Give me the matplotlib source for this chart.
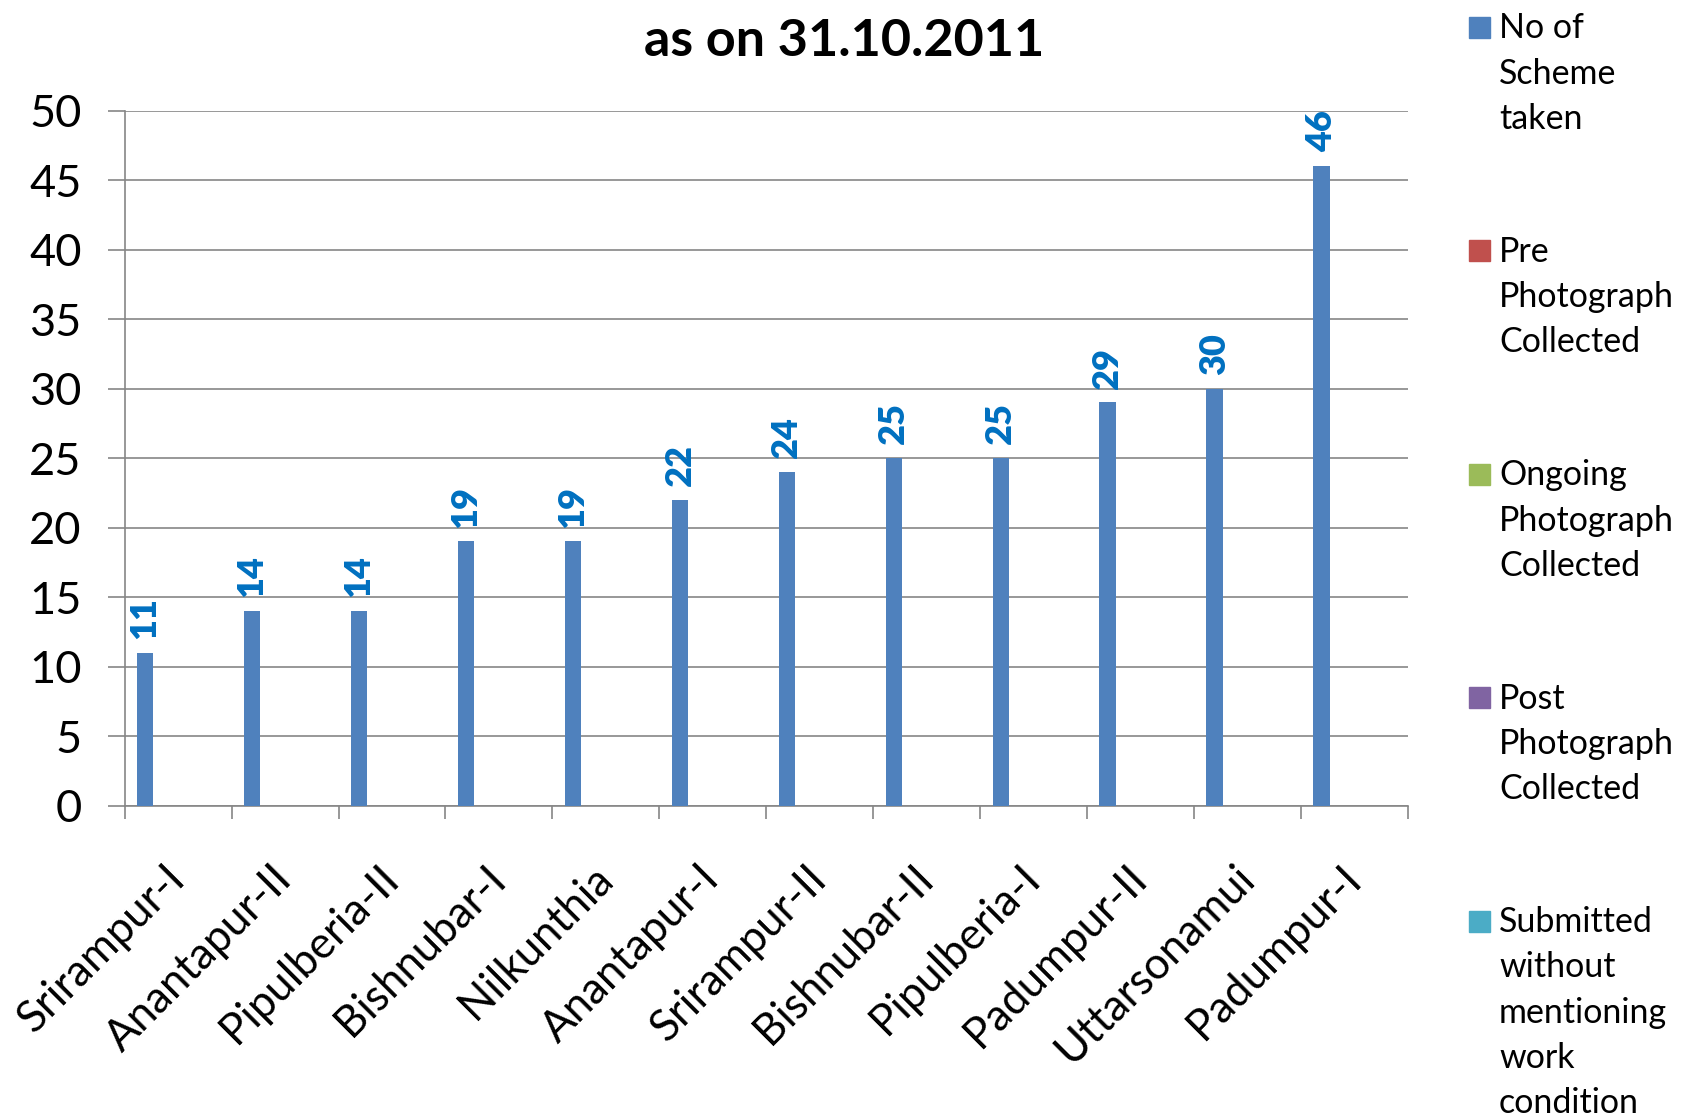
import matplotlib
matplotlib.use("Agg")
import matplotlib.pyplot as plt
from matplotlib.patches import Rectangle
import numpy as np

plt.rcParams['font.family'] = ['Lato', 'DejaVu Sans']

categories = ["Srirampur-I", "Anantapur-II", "Pipulberia-II", "Bishnubar-I", "Nilkunthia",
              "Anantapur-I", "Srirampur-II", "Bishnubar-II", "Pipulberia-I", "Padumpur-II",
              "Uttarsonamui", "Padumpur-I"]
scheme_taken = [11, 14, 14, 19, 19, 22, 24, 25, 25, 29, 30, 46]
pre_photo = [0] * 12
ongoing_photo = [0] * 12
post_photo = [0] * 12
submitted_wo = [0] * 12

series_labels = ["No of\nScheme\ntaken", "Pre\nPhotograph\nCollected", "Ongoing\nPhotograph\nCollected",
                 "Post\nPhotograph\nCollected", "Submitted\nwithout\nmentioning\nwork\ncondition"]
series_values = [scheme_taken, pre_photo, ongoing_photo, post_photo, submitted_wo]
colors = ["#4F81BD", "#C0504D", "#9BBB59", "#8064A2", "#4BACC6"]
title = "as on 31.10.2011"
yticks = list(range(0, 51, 5))

W, H = 1684, 1118
fig = plt.figure(figsize=(W / 100, H / 100), dpi=100)
ax = fig.add_axes([124.6 / W, 1 - 805.5 / H, (1408 - 124.6) / W, (805.5 - 110.6) / H])

grid_c = "#868686"
n = len(categories)
x = np.arange(n)
gap = 1.5
bw = 1.0 / (len(series_values) + gap)
for k, (vals, c) in enumerate(zip(series_values, colors)):
    xs = x - 0.5 + (gap / 2 + k + 0.5) * bw
    bars = ax.bar(xs, vals, width=bw, color=c, edgecolor='none', zorder=3)
    if k == 0:
        for xi, v in zip(xs, vals):
            ax.annotate(str(v), (xi, v), xytext=(0, 10), textcoords='offset points',
                        rotation=90, ha='center', va='bottom', color='#0070C0',
                        fontweight='heavy', fontsize=26)

ax.set_xlim(-0.5, n - 0.5)
ax.set_ylim(0, 50)
ax.set_yticks(yticks)
ax.yaxis.grid(True, color=grid_c, linewidth=1.2, zorder=0)
ax.set_axisbelow(True)
for s in ['top', 'right']:
    ax.spines[s].set_visible(False)
for s in ['left', 'bottom']:
    ax.spines[s].set_color(grid_c)
    ax.spines[s].set_linewidth(1.2)
ax.tick_params(axis='y', length=12, width=1.2, color=grid_c, pad=19, labelsize=32.5)

ax.set_xticks(x)
ax.set_xticklabels(categories, rotation=45, ha='right', va='center', rotation_mode='anchor', fontsize=31.5)
ax.tick_params(axis='x', which='major', length=0, pad=48)
ax.set_xticks(np.arange(-0.5, n, 1.0), minor=True)
ax.tick_params(axis='x', which='minor', length=9, width=1.2, color=grid_c)

fig.text(844 / W, 1 - 42 / H, title, ha='center', va='center', fontsize=37.5, fontweight='bold')

# legend (manual)
step = 223.4
for i, (lab, c) in enumerate(zip(series_labels, colors)):
    cy = 27.5 + i * step
    fig.add_artist(Rectangle((1469 / W, 1 - (cy + 10.5) / H), 21 / W, 21 / H,
                             transform=fig.transFigure, color=c))
    fig.text(1499 / W, 1 - (cy - 15) / H, lab, ha='left', va='top', fontsize=24.5, linespacing=1.51)

fig.savefig("out.png", dpi=100)
